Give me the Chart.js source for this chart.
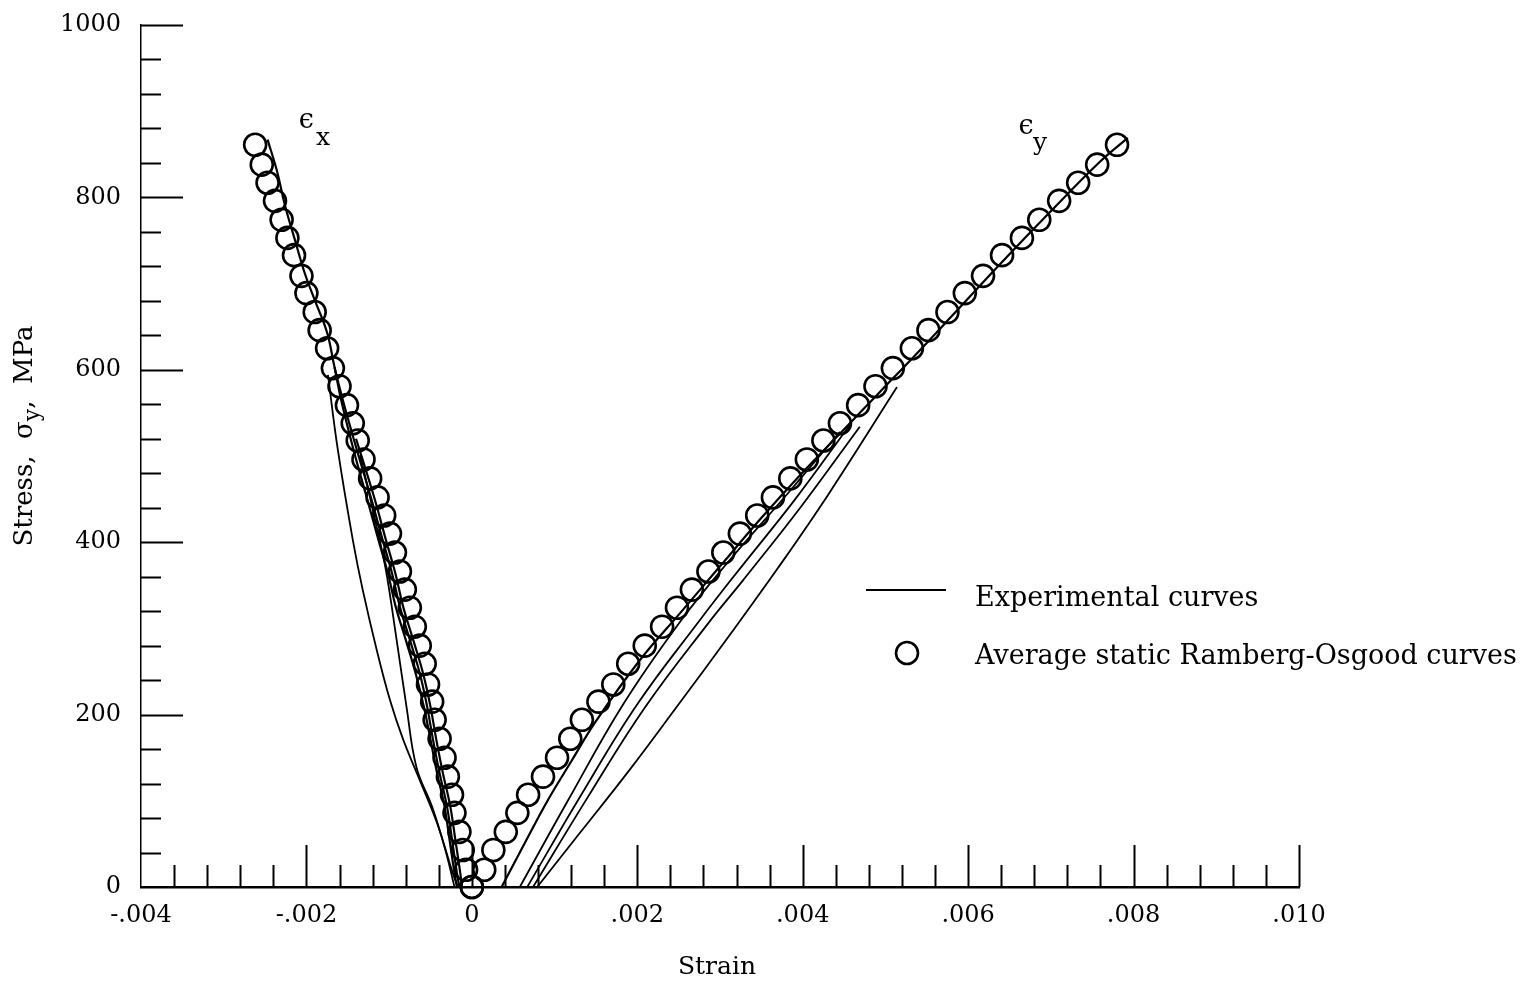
<!DOCTYPE html>
<html>
<head>
<meta charset="utf-8">
<script src="https://cdn.jsdelivr.net/npm/chart.js@4/dist/chart.umd.min.js"></script>
<style>
  body { margin: 0; background: #fff; }
  #wrap { width: 1534px; height: 983px; }
</style>
</head>
<body>
<div id="wrap"><canvas id="stressChart" width="1534" height="983"></canvas></div>
<script>
// Average static Ramberg-Osgood curves (circles)
const circleStress = [0, 20, 43, 64, 86, 107, 128, 150, 172, 194, 215, 235, 259, 280, 302, 324, 345, 366, 388, 410,
  431, 452, 474, 496, 518, 538, 559, 581, 602, 625, 646, 667, 689, 709, 733, 753, 774, 796, 817, 838, 861];
const epsXCircleStrain = [0, -0.00007, -0.00011, -0.00015, -0.00021, -0.00024, -0.00029, -0.00033, -0.00039, -0.00045,
  -0.00048, -0.00053, -0.00057, -0.00063, -0.00069, -0.00075, -0.00081, -0.00087, -0.00093, -0.00099,
  -0.00106, -0.00114, -0.00123, -0.00131, -0.00138, -0.00144, -0.00151, -0.00160, -0.00168, -0.00175,
  -0.00184, -0.00190, -0.00200, -0.00206, -0.00215, -0.00223, -0.00230, -0.00238, -0.00247, -0.00254, -0.00262];
const epsYCircleStrain = [0, 0.00015, 0.00026, 0.00041, 0.00055, 0.00068, 0.00086, 0.00103, 0.00119, 0.00133,
  0.00153, 0.00171, 0.00189, 0.00209, 0.00230, 0.00248, 0.00266, 0.00286, 0.00304, 0.00324,
  0.00345, 0.00364, 0.00385, 0.00405, 0.00425, 0.00445, 0.00467, 0.00488, 0.00509, 0.00532,
  0.00552, 0.00575, 0.00596, 0.00618, 0.00641, 0.00665, 0.00686, 0.00710, 0.00733, 0.00756, 0.00780];

// Experimental curves, epsilon x
const expX1Strain = [-0.00015, -0.00018, -0.00024, -0.00030, -0.00039, -0.00047, -0.00054, -0.00063, -0.00075, -0.00087, -0.00096, -0.00108,
  -0.00123, -0.00139, -0.00156, -0.00166, -0.00175, -0.00190, -0.00202, -0.00214, -0.00226, -0.00236, -0.00247];
const expX1Stress = [0, 16, 55, 93, 132, 171, 209, 248, 287, 325, 362, 403, 455, 507, 565, 603, 643, 681, 712, 751, 791, 832, 867];
const expX2Strain = [-0.00018, -0.00021, -0.00027, -0.00033, -0.00042, -0.00050, -0.00058, -0.00068, -0.00080, -0.00092, -0.00101,
  -0.00113, -0.00128, -0.00143, -0.00158, -0.00166];
const expX2Stress = [0, 16, 55, 93, 132, 171, 209, 248, 287, 325, 362, 403, 455, 507, 565, 603];
const expX3Strain = [-0.00012, -0.00014, -0.00020, -0.00026, -0.00035, -0.00043, -0.00050, -0.00059, -0.00071, -0.00083, -0.00092,
  -0.00104, -0.00119, -0.00140];
const expX3Stress = [0, 16, 55, 93, 132, 171, 209, 248, 287, 325, 362, 403, 455, 520];
const expX4Strain = [-0.00017, -0.00023, -0.00042, -0.00063, -0.00083, -0.00099, -0.00115, -0.00132, -0.00144, -0.00162, -0.00174];
const expX4Stress = [0, 16, 74, 124, 171, 217, 275, 345, 403, 507, 594];
const expX5Strain = [-0.00021, -0.00032, -0.00048, -0.00067, -0.00079, -0.00091, -0.00104, -0.00117, -0.00135];
const expX5Stress = [0, 43, 93, 139, 209, 287, 368, 426, 501];

// Experimental curves, epsilon y
const expY1Strain = [0.00036, 0.00064, 0.00092, 0.00121, 0.00149, 0.00203, 0.00252, 0.00300, 0.00348, 0.00397,
  0.00451, 0.00493, 0.00536, 0.00578, 0.00639, 0.00699, 0.00759, 0.00793];
const expY1Stress = [0, 51, 101, 147, 191, 263, 318, 372, 426, 478, 532, 574, 617, 660, 723, 783, 841, 869];
const expY2Strain = [0.00058, 0.00116, 0.00183, 0.00252, 0.00308, 0.00385, 0.00445];
const expY2Stress = [0, 100, 212, 308, 375, 460, 528];
const expY3Strain = [0.00067, 0.00131, 0.00200, 0.00276, 0.00318, 0.00391, 0.00457];
const expY3Stress = [0, 105, 212, 310, 362, 450, 536];
const expY4Strain = [0.00074, 0.00140, 0.00209, 0.00285, 0.00328, 0.00397, 0.00469];
const expY4Stress = [0, 104, 208, 305, 356, 440, 534];
const expY5Strain = [0.00079, 0.00130, 0.00190, 0.00250, 0.00310, 0.00370, 0.00430, 0.00514];
const expY5Stress = [0, 62, 135, 212, 290, 370, 454, 580];

const xTicks = [-0.004, -0.002, 0, 0.002, 0.004, 0.006, 0.008, 0.010];
const yTicks = [0, 200, 400, 600, 800, 1000];

const serif = '"DejaVu Serif", serif';

function pairs(xs, ys) {
  return xs.map((x, i) => ({ x: x, y: ys[i] }));
}

function expLine(xs, ys, width) {
  return {
    data: pairs(xs, ys),
    showLine: true,
    borderColor: '#000',
    borderWidth: width || 1.8,
    pointRadius: 0,
    tension: 0.4,
    fill: false
  };
}

function circles(xs, ys) {
  return {
    data: pairs(xs, ys),
    showLine: false,
    pointStyle: 'circle',
    pointRadius: 11,
    pointBorderWidth: 2.6,
    pointBorderColor: '#000',
    pointBackgroundColor: 'rgba(0,0,0,0)',
    clip: false
  };
}

// ticks inward, labels, legend
const decorations = {
  id: 'decorations',
  afterDraw(chart) {
    const ctx = chart.ctx;
    const xs = chart.scales.x, ys = chart.scales.y;
    const left = chart.chartArea.left, bottom = chart.chartArea.bottom;
    ctx.save();
    ctx.strokeStyle = '#000';
    ctx.lineWidth = 2;
    ctx.beginPath();
    for (let i = 1; i <= 25; i++) {
      const py = Math.round(ys.getPixelForValue(i * 40)) + 0.5;
      const len = i % 5 === 0 ? 42 : 20;
      ctx.moveTo(left, py); ctx.lineTo(left + len, py);
    }
    for (let i = 1; i <= 35; i++) {
      const px = Math.round(xs.getPixelForValue(-0.004 + i * 0.0004)) + 0.5;
      const len = i % 5 === 0 ? 42 : 22;
      ctx.moveTo(px, bottom); ctx.lineTo(px, bottom - len);
    }
    ctx.stroke();

    ctx.fillStyle = '#000';
    // epsilon labels
    ctx.textAlign = 'center';
    ctx.textBaseline = 'middle';
    ctx.font = '27px ' + serif;
    ctx.fillText('ϵ', xs.getPixelForValue(-0.00200), ys.getPixelForValue(889));
    ctx.fillText('ϵ', xs.getPixelForValue(0.00670), ys.getPixelForValue(882));
    ctx.font = '25px ' + serif;
    ctx.fillText('x', xs.getPixelForValue(-0.00180), ys.getPixelForValue(868));
    ctx.fillText('y', xs.getPixelForValue(0.00687), ys.getPixelForValue(862));

    // x title
    ctx.font = '25px ' + serif;
    ctx.textBaseline = 'alphabetic';
    ctx.fillText('Strain', 717, 974);

    // y title, rotated, with subscript
    ctx.save();
    ctx.translate(32, 436);
    ctx.rotate(-Math.PI / 2);
    ctx.textAlign = 'left';
    const big = '26px ' + serif, small = '22px ' + serif;
    ctx.font = big;
    const p1 = 'Stress,  σ', p3 = ',  MPa';
    const w1 = ctx.measureText(p1).width, w3 = ctx.measureText(p3).width;
    ctx.font = small;
    const w2 = ctx.measureText('y').width;
    let cx = -(w1 + w2 + w3) / 2;
    ctx.font = big; ctx.fillText(p1, cx, 0); cx += w1;
    ctx.font = small; ctx.fillText('y', cx, 7); cx += w2;
    ctx.font = big; ctx.fillText(p3, cx, 0);
    ctx.restore();

    // legend
    ctx.lineWidth = 1.8;
    ctx.beginPath();
    ctx.moveTo(866, 590); ctx.lineTo(946, 590);
    ctx.stroke();
    ctx.lineWidth = 2.6;
    ctx.beginPath();
    ctx.arc(907, 653, 11, 0, Math.PI * 2);
    ctx.stroke();
    ctx.font = '27px ' + serif;
    ctx.textAlign = 'left';
    ctx.fillText('Experimental curves', 975, 606);
    ctx.fillText('Average static Ramberg-Osgood curves', 975, 664);
    ctx.restore();
  }
};

const chart = new Chart(document.getElementById('stressChart'), {
  type: 'scatter',
  data: {
    datasets: [
      expLine(expX1Strain, expX1Stress, 2.2),
      expLine(expX2Strain, expX2Stress, 2.2),
      expLine(expX3Strain, expX3Stress, 2.2),
      expLine(expX4Strain, expX4Stress),
      expLine(expX5Strain, expX5Stress),
      expLine(expY1Strain, expY1Stress, 2.2),
      expLine(expY2Strain, expY2Stress),
      expLine(expY3Strain, expY3Stress),
      expLine(expY4Strain, expY4Stress),
      expLine(expY5Strain, expY5Stress),
      circles(epsXCircleStrain, circleStress),
      circles(epsYCircleStrain, circleStress)
    ]
  },
  options: {
    responsive: false,
    animation: false,
    devicePixelRatio: 1,
    layout: { padding: { top: 25, right: 235, left: 0, bottom: 0 } },
    plugins: { legend: { display: false }, tooltip: { enabled: false } },
    scales: {
      x: {
        type: 'linear',
        min: -0.004,
        max: 0.010,
        afterFit(scale) {
          scale.height = 96;
          scale.paddingLeft = 0; scale.paddingRight = 0;
        },
        afterBuildTicks(scale) { scale.ticks = xTicks.map(v => ({ value: v })); },
        grid: { display: false, drawTicks: false, tickLength: 0 },
        border: { display: true, color: '#000', width: 2.5 },
        ticks: {
          padding: 14,
          color: '#000',
          font: { family: serif, size: 24 },
          maxRotation: 0,
          autoSkip: false,
          callback(v) {
            if (Math.abs(v) < 1e-9) return '0';
            return v.toFixed(3).replace('0.', '.');
          }
        }
      },
      y: {
        type: 'linear',
        min: 0,
        max: 1000,
        afterFit(scale) {
          scale.width = 141;
          scale.paddingTop = 0; scale.paddingBottom = 0;
        },
        afterBuildTicks(scale) { scale.ticks = yTicks.map(v => ({ value: v })); },
        grid: { display: false, drawTicks: false, tickLength: 0 },
        border: { display: true, color: '#000', width: 1.5 },
        ticks: {
          padding: 20,
          color: '#000',
          font: { family: serif, size: 24 },
          autoSkip: false,
          callback(v) { return String(v); }
        }
      }
    }
  },
  plugins: [decorations]
});
</script>
</body>
</html>
